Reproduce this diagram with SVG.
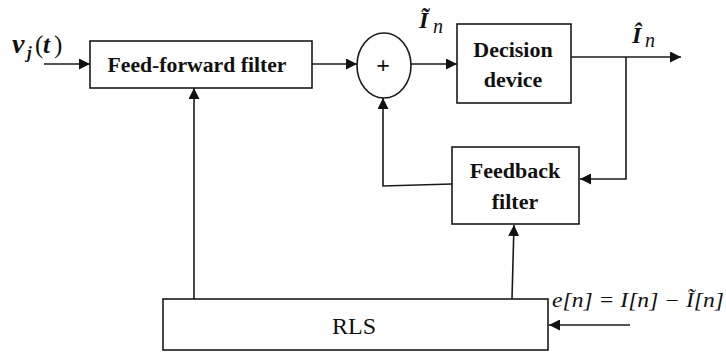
<svg xmlns="http://www.w3.org/2000/svg" width="726" height="353" viewBox="0 0 726 353">
  <style>
    .box { fill: #fff; stroke: #1a1a1a; stroke-width: 1.6; }
    .wire { fill: none; stroke: #1a1a1a; stroke-width: 1.6; }
    .lbl { font-weight: bold; font-size: 22px; text-anchor: middle; }
    .rls { font-size: 24px; text-anchor: middle; }
    .math { font-style: italic; }
    .bi { font-style: italic; font-weight: bold; }
  </style>
  <defs>
    <marker id="arrow" viewBox="0 0 10 10" refX="10" refY="5" markerWidth="11" markerHeight="11" markerUnits="userSpaceOnUse" orient="auto">
      <path d="M0,0 L10,5 L0,10 Z" fill="#111"/>
    </marker>
  </defs>

  <!-- connectors -->
  <g id="connectors">
    <line class="wire" x1="44" y1="64" x2="90" y2="64" marker-end="url(#arrow)"/>
    <line class="wire" x1="312" y1="64" x2="357" y2="64" marker-end="url(#arrow)"/>
    <line class="wire" x1="411" y1="64" x2="457" y2="64" marker-end="url(#arrow)"/>
    <line class="wire" x1="571" y1="57" x2="681" y2="57" marker-end="url(#arrow)"/>
    <polyline class="wire" points="626,57 626,179 580,179" marker-end="url(#arrow)"/>
    <polyline class="wire" points="452,184 383,186 383,98" marker-end="url(#arrow)"/>
    <line class="wire" x1="194" y1="299" x2="194" y2="88" marker-end="url(#arrow)"/>
    <line class="wire" x1="512" y1="299" x2="514" y2="225" marker-end="url(#arrow)"/>
    <line class="wire" x1="630" y1="325" x2="549" y2="325" marker-end="url(#arrow)"/>
  </g>

  <g font-family="Liberation Serif, Times New Roman, serif" fill="#111">
    <g id="feedforward">
      <rect class="box" x="90" y="41" width="222" height="47"/>
      <text class="lbl" x="197" y="72" textLength="179" lengthAdjust="spacingAndGlyphs">Feed-forward filter</text>
    </g>

    <g id="adder">
      <ellipse class="box" cx="384" cy="65.5" rx="27" ry="32.5"/>
      <text class="lbl" x="383" y="73" style="font-size:24px">+</text>
    </g>

    <g id="decision">
      <rect class="box" x="457" y="24" width="114" height="79"/>
      <text class="lbl" x="513" y="57">Decision</text>
      <text class="lbl" x="513" y="87">device</text>
    </g>

    <g id="feedback">
      <rect class="box" x="452" y="147" width="127" height="77"/>
      <text class="lbl" x="515" y="178">Feedback</text>
      <text class="lbl" x="515" y="209">filter</text>
    </g>

    <g id="rls">
      <rect class="box" x="163" y="299" width="385" height="51"/>
      <text class="rls" x="354" y="334">RLS</text>
    </g>

    <!-- signal labels -->
    <g id="labels">
      <text x="12" y="53" style="font-size:28px"><tspan class="bi">v</tspan><tspan class="bi" x="27" y="58" style="font-size:17px">j</tspan><tspan x="35" y="53" style="font-size:25px">(</tspan><tspan class="bi" x="43" y="53" style="font-size:25px">t</tspan><tspan x="54" y="53" style="font-size:25px">)</tspan></text>
      <text x="419" y="28" style="font-size:24px"><tspan class="bi">Ĩ</tspan><tspan class="math" x="433" y="33" style="font-size:20px">n</tspan></text>
      <text x="632" y="43" style="font-size:24px"><tspan class="bi">Î</tspan><tspan class="math" x="645" y="47" style="font-size:20px">n</tspan></text>
      <text class="math" x="552" y="307" style="font-size:20px" textLength="172" lengthAdjust="spacingAndGlyphs">e[n] = I[n] − Ĩ[n]</text>
    </g>
  </g>
</svg>
